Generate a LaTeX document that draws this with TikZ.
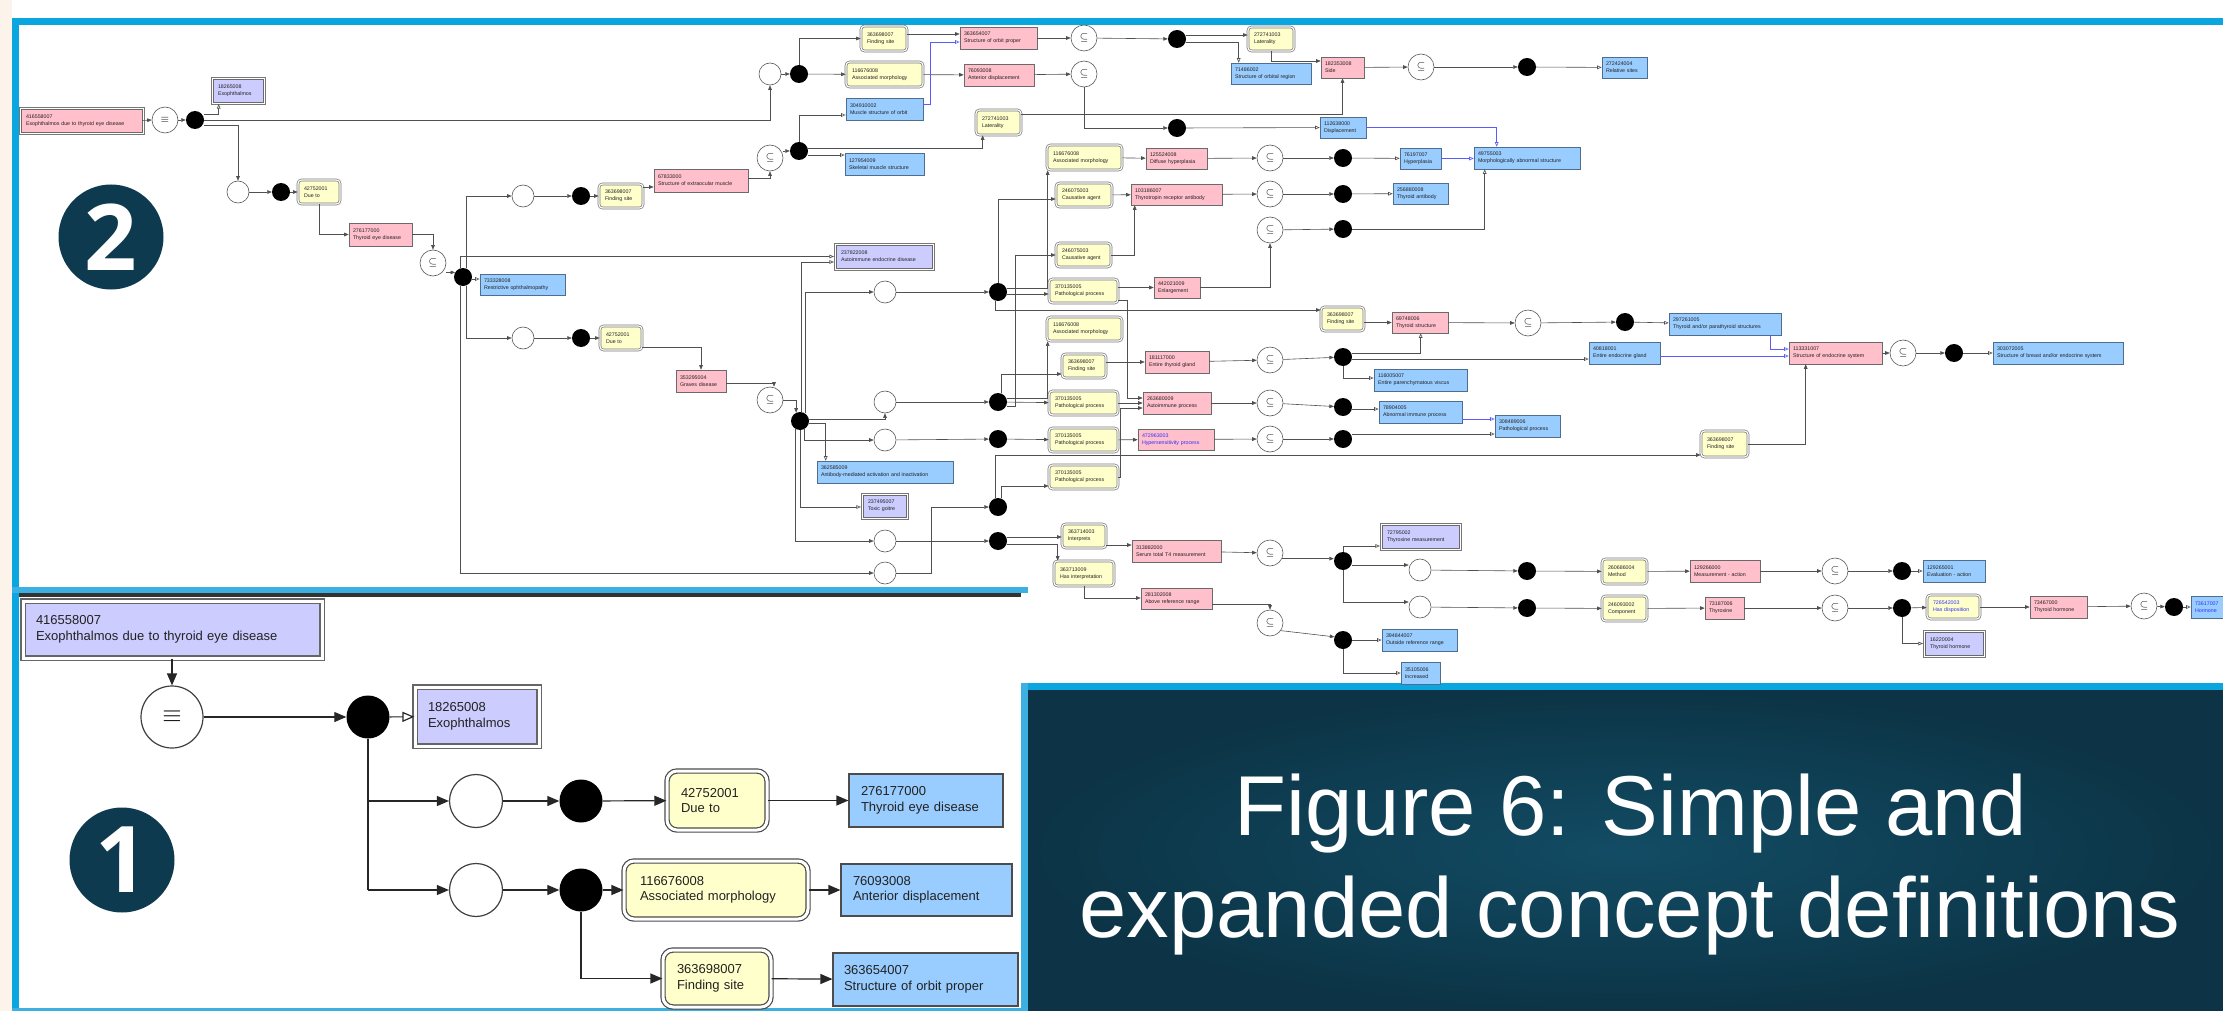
\documentclass[tikz,border=0pt]{standalone}
\usepackage{fontspec}
\setmainfont{Liberation Sans}
\newfontfamily\digfont{Open Sans}
\usetikzlibrary{arrows.meta,shapes.geometric,calc}
\definecolor{frameb}{HTML}{0AA6DF}
\definecolor{lightb}{HTML}{3DB0E2}
\definecolor{cream}{HTML}{FCF4EA}
\definecolor{navy}{HTML}{0E3A4F}
\definecolor{panelin}{HTML}{124C64}
\definecolor{panelout}{HTML}{0C3446}
\definecolor{pinkc}{HTML}{FFBFCB}
\definecolor{bluec}{HTML}{99CCFF}
\definecolor{lavc}{HTML}{CCCCFF}
\definecolor{yelc}{HTML}{FFFFCC}
\definecolor{lnc}{HTML}{505050}
\definecolor{bdc}{HTML}{6A6A6A}
\definecolor{bdb}{HTML}{4F6E8E}
\definecolor{dbl}{HTML}{777777}
\definecolor{bluln}{HTML}{5A5AFF}
\definecolor{blutxt}{HTML}{3030FF}
\definecolor{txtc}{HTML}{222222}
\newcommand\tinyfnt{\fontsize{5.3}{6.8}\selectfont}
\newcommand\bigfnt{\fontsize{13}{15.5}\selectfont}
\newcommand\bx[9][4]{%
  \pgfmathsetmacro\bxw{#6-#4}%
  \pgfmathsetmacro\bxh{#7-#5}%
  \pgfmathsetmacro\bxcx{(#4+#6)/2}%
  \pgfmathsetmacro\bxcy{(#5+#7)/2}%
  \pgfmathsetmacro\bxtw{#6-#4-2*#1}%
  \node[#2, minimum width=\bxw pt, minimum height=\bxh pt, text width=\bxtw pt, align=left] (#3) at (\bxcx,\bxcy) {#8\\#9};%
}
% outer frame of a doubly outlined box
\newcommand\frameit[1]{\draw[outerframe] ($(#1.south west)+(-1.8,1.8)$) rectangle ($(#1.north east)+(1.8,-1.8)$);}
\tikzset{
  ln/.style={draw=lnc, line width=0.6pt},
  ra/.style={ln, -{Triangle[length=4.5pt,width=3.6pt]}},
  isa/.style={ln, -{Triangle[open,length=4.5pt,width=3.6pt,fill=white]}},
  isab/.style={isa, draw=bluln},
  outerframe/.style={draw=dbl, line width=0.7pt},
  bxs/.style={rectangle, inner sep=0pt, font=\tinyfnt, text=txtc, line width=0.6pt, draw=bdc},
  pinkb/.style={bxs, fill=pinkc},
  pinkbt/.style={pinkb, text=blutxt},
  pinkd/.style={pinkb, draw=bdc},
  blueb/.style={bxs, fill=bluec, draw=bdb},
  bluebt/.style={blueb, text=blutxt},
  lavd/.style={bxs, fill=lavc, draw=bdc},
  yeld/.style={bxs, fill=yelc, rounded corners=3.5pt, double=white, double distance=1.2pt, line width=0.7pt, draw=dbl},
  yeldt/.style={yeld, text=blutxt},
  wc/.style={circle, draw=gray!70!black, fill=white, line width=0.6pt, minimum size=22pt, inner sep=0pt},
  sub/.style={wc, minimum size=26pt, font=\fontsize{11}{11}\selectfont},
  dot/.style={circle, fill=black, minimum size=18pt, inner sep=0pt},
  ln1/.style={draw=black!85, line width=1.2pt},
  ra1/.style={ln1, -{Triangle[length=12pt,width=10pt]}},
  isa1/.style={ln1, -{Triangle[open,length=12pt,width=10pt,fill=white]}},
  bx1/.style={rectangle, inner sep=0pt, font=\bigfnt, text=txtc, line width=1.2pt, draw=black!70},
  p1blue/.style={bx1, fill=bluec},
  p1lav/.style={bx1, fill=lavc, double=white, double distance=3pt, draw=black!60},
  p1yel/.style={bx1, fill=yelc, rounded corners=10pt, double=white, double distance=3pt, draw=black!70},
  p1wc/.style={circle, draw=black!75, line width=1.2pt, fill=white, minimum size=53pt, inner sep=0pt},
  p1eq/.style={p1wc, minimum size=62pt, font=\fontsize{24}{24}\selectfont},
  p1dot/.style={circle, fill=black, minimum size=43pt, inner sep=0pt},
  badge/.style={circle, fill=navy, minimum size=105pt, inner sep=0pt},
  badgetxt/.style={text=white, font=\digfont\bfseries\fontsize{92}{92}\selectfont},
  title/.style={text=white, font=\fontsize{85}{102}\selectfont, anchor=base}
}
\begin{document}
\begin{tikzpicture}[x=1pt,y=-1pt]
\useasboundingbox (0,0) rectangle (2223,1011);
\clip (0,0) rectangle (2223,1011);
% ---------- background and frames ----------
\fill[white] (0,0) rectangle (2223,1011);
\fill[cream] (0,0) rectangle (12,1011);
\fill[frameb] (12,18) rectangle (2223,25);
\fill[frameb] (12,18) rectangle (19,1011);
\fill[frameb] (1021,683) rectangle (2223,690);
\shade[inner color=panelin, outer color=panelout] (1028,690) rectangle (2223,1011);
\fill[lightb] (1021,683) rectangle (1028,1011);
\fill[lightb] (12,587) rectangle (1028,593);
\fill[black!80] (19,593) rectangle (1021,597);
\fill[lightb] (12,1008) rectangle (1028,1011);
% ---------- title ----------
\node[title] (t1) at (1631,835) {Figure 6: Simple and};
\node[title] (t2) at (1630,937) {expanded concept definitions};
% ---------- badges ----------
\node[badge] (C2) at (111,237) {};
\node[badgetxt] (C2t) at (C2) {2};
\node[badge] (C1) at (122,860) {};
\node[badgetxt] (C1t) at (C1) {1};

% ================= upper (expanded) diagram =================
\bx[5]{pinkd}{E0}{21}{109}{142}{132}{416558007}{Exophthalmos due to thyroid eye disease}
\frameit{E0}
\node[sub] (EQ) at (165,120) {$\equiv$};
\node[dot] (D0) at (195,120) {};
\bx[5]{lavd}{EXO}{213}{79}{263}{102}{18265008}{Exophthalmos}
\frameit{EXO}
\node[wc] (W1) at (238,192) {};
\node[dot] (D1) at (281,192) {};
\bx[6]{yeld}{Y1}{298}{180}{340}{204}{42752001}{Due to}
\bx{pinkb}{P1}{349}{223}{412}{246}{276177000}{Thyroid eye disease}
\node[sub] (S1) at (433,263) {$\subseteq$};
\node[dot] (D2) at (463,277) {};
\bx{blueb}{B1}{480}{274}{565}{295}{733328008}{Restrictive ophthalmopathy}
\node[wc] (W2) at (523,196) {};
\node[dot] (D3) at (581,196) {};
\bx[6]{yeld}{Y2}{599}{184}{643}{208}{363698007}{Finding site}
\bx{pinkb}{P2}{654}{169}{748}{192}{67833000}{Structure of extraocular muscle}
\node[sub] (S2) at (770,158) {$\subseteq$};
\node[dot] (D4) at (799,151) {};
\bx{blueb}{B2}{846}{98}{923}{120}{304910002}{Muscle structure of orbit}
\bx[6]{yeld}{Y3}{976}{110}{1021}{135}{272741003}{Laterality}
\bx{blueb}{B3}{845}{153}{924}{175}{127954009}{Skeletal muscle structure}
\node[wc] (W3) at (770,74) {};
\node[dot] (D5) at (799,74) {};
\bx[6]{yeld}{Y4}{861}{26}{907}{51}{363698007}{Finding site}
\bx[6]{yeld}{Y5}{846}{62}{923}{87}{116676008}{Associated morphology}
\bx{pinkb}{P3}{960}{27}{1037}{49}{363654007}{Structure of orbit proper}
\bx{pinkb}{P4}{964}{64}{1034}{86}{76093008}{Anterior displacement}
\node[sub] (S3) at (1084,38) {$\subseteq$};
\node[sub] (S4) at (1084,74) {$\subseteq$};
\node[dot] (D6) at (1177,39) {};
\bx[6]{yeld}{Y6}{1248}{27}{1294}{51}{272741003}{Laterality}
\bx{blueb}{B4}{1231}{63}{1311}{84}{71486002}{Structure of orbital region}
\bx{pinkb}{P5}{1321}{57}{1364}{78}{182353008}{Side}
\node[dot] (D7) at (1177,128) {};
\bx{blueb}{B5}{1320}{117}{1366}{138}{112638000}{Displacement}
\node[sub] (S5) at (1421,67) {$\subseteq$};
\node[dot] (D8) at (1527,67) {};
\bx{blueb}{B6}{1602}{57}{1647}{78}{272424004}{Relative sites}
\bx{blueb}{B7}{1474}{147}{1580}{169}{49755003}{Morphologically abnormal structure}
% middle
\bx[6]{yeld}{Y7}{1047}{145}{1122}{170}{116676008}{Associated morphology}
\bx{pinkb}{P6}{1146}{148}{1207}{169}{125524008}{Diffuse hyperplasia}
\node[sub] (S6) at (1270,158) {$\subseteq$};
\node[dot] (D9) at (1343,158) {};
\bx{blueb}{B8}{1400}{148}{1441}{169}{76197007}{Hyperplasia}
\bx[6]{yeld}{Y8}{1056}{183}{1112}{207}{246075003}{Causative agent}
\bx{pinkb}{P7}{1131}{184}{1222}{205}{103186007}{Thyrotropin receptor antibody}
\node[sub] (S7) at (1270,194) {$\subseteq$};
\node[dot] (D10) at (1343,194) {};
\bx{blueb}{B9}{1393}{183}{1448}{204}{256880008}{Thyroid antibody}
\node[sub] (S8) at (1270,230) {$\subseteq$};
\node[dot] (D11) at (1343,229) {};
\bx{pinkb}{P8}{1154}{277}{1200}{298}{442021009}{Enlargement}
\bx[6]{yeld}{Y9}{1056}{243}{1111}{267}{246075003}{Causative agent}
\bx[6]{yeld}{Y10}{1049}{279}{1118}{303}{370135005}{Pathological process}
\bx[6]{yeld}{Y11}{1047}{317}{1122}{341}{116676008}{Associated morphology}
\bx[5]{lavd}{L1}{836}{245}{932}{268}{237822008}{Autoimmune endocrine disease}
\frameit{L1}
\node[wc] (W4) at (885,292) {};
\node[dot] (D12) at (998,292) {};
\bx[6]{yeld}{Y12}{1321}{307}{1364}{331}{363698007}{Finding site}
\bx{pinkb}{P9}{1392}{312}{1448}{333}{69748006}{Thyroid structure}
\node[sub] (S9) at (1528,323) {$\subseteq$};
\node[dot] (D13) at (1625,322) {};
\bx{blueb}{B10}{1669}{313}{1781}{335}{297261005}{Thyroid and/or parathyroid structures}
\bx{pinkb}{P10}{1789}{342}{1882}{364}{113331007}{Structure of endocrine system}
\bx{blueb}{B11}{1589}{342}{1660}{364}{40818001}{Entire endocrine gland}
\node[sub] (S10) at (1903,353) {$\subseteq$};
\node[dot] (D14) at (1954,353) {};
\bx{blueb}{B12}{1993}{342}{2123}{364}{303072005}{Structure of breast and/or endocrine system}
\bx[6]{yeld}{Y13}{1701}{431}{1748}{457}{363698007}{Finding site}
\bx{blueb}{B13}{1495}{415}{1560}{437}{308489006}{Pathological process}
% lower
\node[wc] (W5) at (523,338) {};
\node[dot] (D15) at (581,338) {};
\bx[6]{yeld}{Y14}{600}{326}{642}{350}{42752001}{Due to}
\bx{pinkb}{P11}{676}{370}{726}{392}{353295004}{Graves disease}
\node[sub] (S11) at (770,400) {$\subseteq$};
\node[dot] (D16) at (800,421) {};
\node[wc] (W6) at (885,402) {};
\node[dot] (D17) at (998,402) {};
\bx[6]{yeld}{Y15}{1049}{391}{1118}{415}{370135005}{Pathological process}
\bx[6]{yeld}{Y16}{1062}{354}{1106}{378}{363698007}{Finding site}
\bx{pinkb}{P12}{1145}{351}{1209}{373}{181117000}{Entire thyroid gland}
\node[sub] (S12) at (1270,360) {$\subseteq$};
\node[dot] (D18) at (1343,357) {};
\bx{blueb}{B14}{1374}{369}{1467}{391}{116005007}{Entire parenchymatous viscus}
\bx{pinkb}{P13}{1143}{392}{1211}{414}{263680009}{Autoimmune process}
\node[sub] (S13) at (1270,403) {$\subseteq$};
\node[dot] (D19) at (1343,407) {};
\bx{blueb}{B15}{1379}{401}{1462}{423}{78904005}{Abnormal immune process}
\bx{blueb}{B16}{817}{461}{953}{483}{362585009}{Antibody-mediated activation and inactivation}
\node[wc] (W7) at (885,440) {};
\node[dot] (D20) at (998,439) {};
\bx[6]{yeld}{Y17}{1049}{428}{1118}{452}{370135005}{Pathological process}
\bx{pinkbt}{P14}{1138}{429}{1214}{450}{472963003}{Hypersensitivity process}
\node[sub] (S14) at (1270,439) {$\subseteq$};
\node[dot] (D21) at (1343,439) {};
\bx[5]{lavd}{L2}{863}{495}{906}{517}{237495007}{Toxic goitre}
\frameit{L2}
\bx[6]{yeld}{Y18}{1049}{465}{1118}{489}{370135005}{Pathological process}
\node[dot] (D22) at (998,507) {};
\node[wc] (W8) at (885,541) {};
\node[dot] (D23) at (998,541) {};
\node[wc] (W9) at (885,573) {};
\bx[6]{yeld}{Y19}{1062}{524}{1106}{548}{363714003}{Interprets}
\bx[6]{yeld}{Y20}{1054}{561}{1114}{586}{363713009}{Has interpretation}
\bx{pinkb}{P15}{1132}{540}{1221}{562}{313882000}{Serum total T4 measurement}
\bx{pinkb}{P16}{1141}{588}{1212}{609}{281302008}{Above reference range}
\node[sub] (S15) at (1270,553) {$\subseteq$};
\node[dot] (D24) at (1343,561) {};
\bx[5]{lavd}{L3}{1382}{525}{1459}{548}{72795002}{Thyroxine measurement}
\frameit{L3}
\node[wc] (W10) at (1420,570) {};
\node[wc] (W11) at (1420,607) {};
\node[sub] (S16) at (1270,623) {$\subseteq$};
\node[dot] (D25) at (1343,640) {};
\bx{blueb}{B17}{1382}{629}{1457}{651}{394844007}{Outside reference range}
\bx{blueb}{B18}{1401}{662}{1440}{684}{35105006}{Increased}
\node[dot] (D26) at (1527,571) {};
\bx[6]{yeld}{Y21}{1602}{559}{1647}{584}{260686004}{Method}
\bx{pinkb}{P17}{1690}{560}{1760}{582}{129266000}{Measurement - action}
\node[sub] (S17) at (1835,571) {$\subseteq$};
\node[dot] (D27) at (1902,571) {};
\bx{blueb}{B19}{1923}{560}{1985}{582}{129265001}{Evaluation - action}
\node[dot] (D28) at (1527,608) {};
\bx[6]{yeld}{Y22}{1602}{596}{1647}{621}{246093002}{Component}
\bx{pinkb}{P18}{1705}{597}{1744}{619}{73187006}{Thyroxine}
\node[sub] (S18) at (1835,608) {$\subseteq$};
\node[dot] (D29) at (1902,608) {};
\bx[6]{yeldt}{Y23}{1927}{595}{1980}{619}{726542003}{Has disposition}
\bx[5]{lavd}{L4}{1925}{632}{1983}{655}{16220004}{Thyroid hormone}
\frameit{L4}
\bx{pinkb}{P19}{2030}{596}{2087}{618}{73467000}{Thyroid hormone}
\node[sub] (S19) at (2144,606) {$\subseteq$};
\node[dot] (D30) at (2174,607) {};
\bx{bluebt}{B20}{2191}{596}{2250}{618}{73617007}{Hormone}

% ---------- upper connectors ----------
\draw[ra] (E0.east) -- (EQ.west);
\draw[ra] (EQ.east) -- (D0.west);
\draw[isa] (D0.east |- 0,114) -| ($(EXO.south west)+(6,1.8)$);
\draw[ra] (D0.east) -| (W3.south);
\draw[ra] (D0.east |- 0,125) -| (W1.north);
\draw[ra] (W1) -- (D1);
\draw[ra] (D1) -- (Y1);
\draw[ra] (Y1.south) |- (P1.west);
\draw[ra] (P1.east) -| (S1.north);
\draw[ra] (S1.east |- D2.150) -- (D2.150);
\draw[isa] (D2.east |- 0,279) -- (B1.west |- 0,279);
\draw[ra] (D2.70) |- (W2.west);
\draw[isa] (D2.110) |- ($(L1.west)+(-1.8,0)$);
\draw[ra] (D2.290) |- (W5.west);
\draw[ra] (D2.250) |- (W9.west);
\draw[ra] (W2) -- (D3);
\draw[ra] (D3) -- (Y2);
\draw[ra] (Y2.east |- 0,187) -- (P2.west |- 0,187);
\draw[ra] (P2.east |- 0,178) -| (S2.south);
\draw[ra] (S2.east |- D4.west) -- (D4.west);
\draw[isa] (D4.north) |- (B2.west |- 0,115);
\draw[ra] (D4.east |- 0,148) -| ($(Y3.south west)+(7,0)$);
\draw[isa] (D4.east |- 0,155) -- (B3.west |- 0,155);
\draw[ra] (Y3.east |- 0,114) -| (P5.south);
\draw[ra] (W3) -- (D5);
\draw[ra] (D5.north) |- (Y4.west);
\draw[ra] (D5) -- (Y5);
\draw[ra] (Y4.east |- 0,34) -- (P3.west |- 0,34);
\draw[ra] (Y5) -- (P4);
\draw[isab] (B2.east |- 0,104) -- ++(7,0) |- (P3.west |- 0,42);
\draw[ra] (P3) -- (S3);
\draw[ra] (S3) -- (D6);
\draw[ra] (D6.east |- 0,35) -- (Y6.west |- 0,35);
\draw[isa] (D6.east |- 0,42) -| ($(B4.north west)+(8,0)$);
\draw[ra] (Y6.south) |- (P5.west |- 0,61);
\draw[ra] (P4) -- (S4);
\draw[ra] (S4.south) |- (D7.west);
\draw[isa] (D7) -- (B5);
\draw[isab] (B5.east) -| ($(B7.north west)+(23,0)$);
\draw[ra] (P5) -- (S5);
\draw[ra] (S5) -- (D8);
\draw[isa] (D8) -- (B6);
\draw[ra] (Y7) -- (P6);
\draw[ra] (P6) -- (S6);
\draw[ra] (S6) -- (D9);
\draw[isa] (D9) -- (B8);
\draw[isab] (B8.east) -- (B8.east -| B7.west);
\draw[ra] (Y8) -- (P7);
\draw[ra] (P7) -- (S7);
\draw[ra] (S7) -- (D10);
\draw[isa] (D10) -- (B9);
\draw[ra] (S8) -- (D11);
\draw[isa] (D11.east) -| ($(B7.south west)+(11,0)$);
\draw[ra] (P8.east) -| (S8.south);
\draw[ra] (Y9.east) -| ($(P7.south west)+(4,0)$);
\draw[ra] (Y10.east |- P8.west) -- (P8.west);
\draw[ra] (Y10.east |- 0,300) -- (1127,300) |- (P13.west |- 0,398);
\draw[isa] (D16.85) |- ($(L1.west |- 0,262)+(-1.8,0)$);
\draw[ra] (D16.55) |- (W4.west);
\draw[ra] (W4) -- (D12);
\draw[ra] (D12.north) |- (Y8.west |- 0,199);
\draw[ra] (D12.east |- 0,288) -| ($(Y7.south west)+(1,0)$);
\draw[ra] (D12.east |- 0,294) -- (Y10.west |- 0,294);
\draw[ra] (D12.250) |- (Y12.west |- 0,310);
\draw[ra] (Y12.east |- P9.west) -- (P9.west);
\draw[ra] (P9) -- (S9);
\draw[ra] (S9) -- (D13);
\draw[isa] (D13) -- (B10);
\draw[isab] ($(B10.south east)+(-11,0)$) |- (P10.west |- 0,349);
\draw[isab] (B11.east |- 0,356) -- (P10.west |- 0,356);
\draw[ra] (P10) -- (S10);
\draw[ra] (S10) -- (D14);
\draw[isa] (D14) -- (B12);
\draw[ra] (Y13.east |- 0,444) -| ($(P10.south west)+(17,0)$);
\draw[ra] (D22.110) |- (Y13.west |- 0,455);
\draw[ra] (W5) -- (D15);
\draw[ra] (D15) -- (Y14);
\draw[ra] (Y14.east |- 0,347) -| (P11.north);
\draw[ra] (P11.east |- 0,383) -| ($(S11.north)+(4,0)$);
\draw[ra] (S11.east) -| (D16.115);
\draw[ra] (D16.east |- 0,419) -| (W6.south);
\draw[isa] (D16.east |- 0,423) -| ($(B16.north west)+(9,0)$);
\draw[ra] (D16.300) |- (W7.west);
\draw[isa] (D16.south) |- ($(L2.west |- 0,507)+(-1.8,0)$);
\draw[ra] (D16.240) |- (W8.west);
\draw[ra] (W6) -- (D17);
\draw[ra] (D17) -- (Y15);
\draw[ra] (D17.70) |- (Y16.west |- 0,374);
\draw[ra] (D17.east |- 0,398) -| ($(Y11.south west)+(1,0)$);
\draw[ra] (D17.east |- 0,406) -- (1015,406) |- (Y9.west);
\draw[ra] (Y16.east |- P12.west) -- (P12.west);
\draw[ra] (P12) -- (S12);
\draw[ra] (S12) -- (D18);
\draw[isa] (D18.east |- 0,353) -| ($(P9.south west)+(29,0)$);
\draw[isa] (D18.east |- 0,359) -- (B11.west |- 0,359);
\draw[isa] (D18.south) |- (B14.west |- 0,378);
\draw[ra] (Y15) -- (P13);
\draw[ra] (Y18.east |- 0,477) -- (1120,477) |- (P13.west |- 0,408);
\draw[ra] (P13) -- (S13);
\draw[ra] (S13) -- (D19);
\draw[isa] (D19.east |- 0,409) -- (B15.west |- 0,409);
\draw[isab] (B15.east |- 0,419) -- (B13.west |- 0,419);
\draw[ra] (W7) -- (D20);
\draw[ra] (D20) -- (Y17);
\draw[ra] (Y17) -- (P14);
\draw[ra] (P14) -- (S14);
\draw[ra] (S14) -- (D21);
\draw[isa] (D21.east |- 0,434) -- (B13.west |- 0,434);
\draw[ra] (W9.east) -- (931,573) |- (D22.west);
\draw[ra] (D22.70) |- (Y18.west |- 0,486);
\draw[ra] (W8) -- (D23);
\draw[ra] (D23.east |- 0,537) -- (Y19.west |- 0,537);
\draw[ra] (D23.east |- 0,544) -| ($(Y20.north west)+(4,0)$);
\draw[ra] (Y19.east |- 0,545) -- (P15.west |- 0,545);
\draw[ra] (Y20.south) |- (P16.west |- 0,598);
\draw[ra] (P15) -- (S15);
\draw[ra] (S15.-25) -- (D24.west |- S15.-25);
\draw[isa] (D24.north) |- ($(L3.west |- 0,546)+(-1.8,0)$);
\draw[ra] (D24.east |- 0,565) -- (W10.west |- 0,565);
\draw[ra] (D24.south) |- (W11.west |- 0,602);
\draw[ra] (P16.east |- 0,604) -| (S16.north);
\draw[ra] (S16.-35) -- (D25.160);
\draw[isa] (D25) -- (B17);
\draw[isa] (D25.south) |- (B18.west);
\draw[ra] (W10) -- (D26);
\draw[ra] (D26) -- (Y21);
\draw[ra] (Y21) -- (P17);
\draw[ra] (P17) -- (S17);
\draw[ra] (S17) -- (D27);
\draw[isa] (D27) -- (B19);
\draw[ra] (W11) -- (D28);
\draw[ra] (D28) -- (Y22);
\draw[ra] (Y22) -- (P18);
\draw[ra] (P18) -- (S18);
\draw[ra] (S18) -- (D29);
\draw[ra] (D29) -- (Y23);
\draw[isa] (D29.south) |- ($(L4.west)+(-1.8,0)$);
\draw[ra] (Y23) -- (P19);
\draw[ra] (P19) -- (S19);
\draw[ra] (S19) -- (D30);
\draw[isa] (D30) -- (B20);

% ================= panel 1 (simple definition) =================
\bx[13]{p1lav}{A}{23}{601}{322}{658}{416558007}{Exophthalmos due to thyroid eye disease}
\node[p1eq] (EQ1) at (172,717) {$\equiv$};
\node[p1dot] (BD1) at (368,717) {};
\bx[13]{p1lav}{EXO1}{415}{687}{539}{746}{18265008}{Exophthalmos}
\node[p1wc] (WC1) at (476,801) {};
\node[p1dot] (BD2) at (581,801) {};
\bx[14]{p1yel}{Y1a}{667}{771}{767}{830}{42752001}{Due to}
\bx[12]{p1blue}{T1}{849}{774}{1003}{827}{276177000}{Thyroid eye disease}
\node[p1wc] (WC2) at (476,890) {};
\node[p1dot] (BD3) at (581,890) {};
\bx[16]{p1yel}{Y2a}{624}{861}{808}{919}{116676008}{Associated morphology}
\bx[12]{p1blue}{T2}{841}{864}{1012}{916}{76093008}{Anterior displacement}
\bx[14]{p1yel}{Y3a}{663}{950}{771}{1007}{363698007}{Finding site}
\bx[11]{p1blue}{T3}{833}{953}{1018}{1006}{363654007}{Structure of orbit proper}
\draw[ra1] (A.south -| EQ1.north) -- (EQ1.north);
\draw[ra1] (EQ1) -- (BD1);
\draw[isa1] (BD1) -- (EXO1);
\draw[ln1] (BD1.south) -- (BD1.south |- WC2);
\draw[ra1] (BD1.south |- WC1) -- (WC1.west);
\draw[ra1] (BD1.south |- WC2) -- (WC2.west);
\draw[ra1] (WC1) -- (BD2);
\draw[ra1] (BD2) -- (Y1a);
\draw[ra1] (Y1a) -- (T1);
\draw[ra1] (WC2) -- (BD3);
\draw[ra1] (BD3) -- (Y2a);
\draw[ra1] (Y2a) -- (T2);
\draw[ra1] (BD3.south) |- (Y3a.west);
\draw[ra1] (Y3a) -- (T3);
\end{tikzpicture}
\end{document}
